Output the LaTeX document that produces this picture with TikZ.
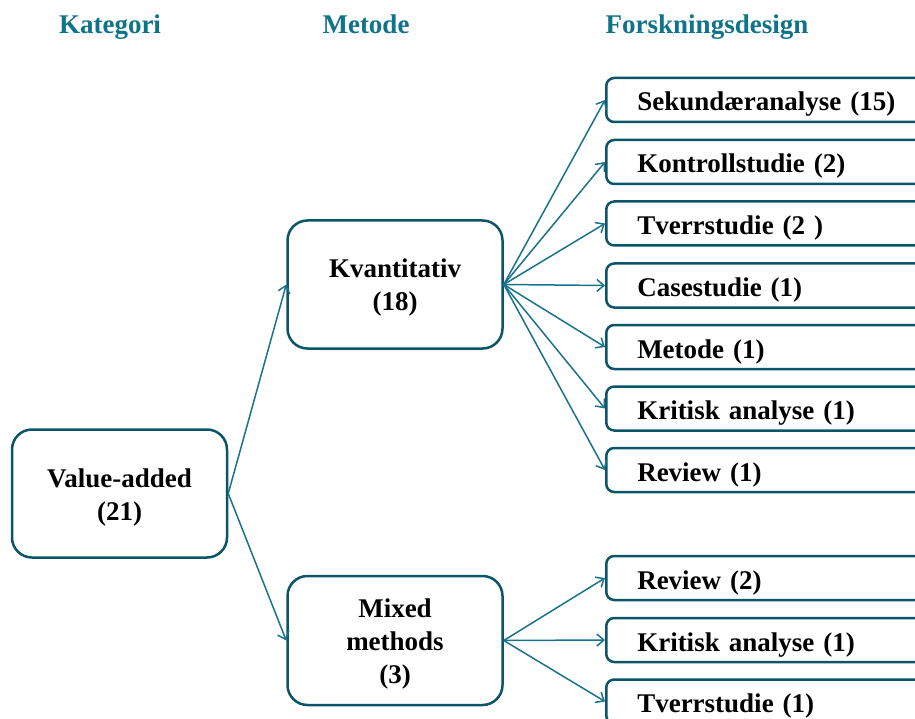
\documentclass[tikz,border=0pt]{standalone}
\usepackage{fontspec}
\setmainfont{Liberation Serif}
\usetikzlibrary{arrows.meta}
\definecolor{hdrc}{RGB}{15,115,138}
\definecolor{bdrc}{RGB}{12,85,105}
\definecolor{arrc}{RGB}{25,115,140}
\begin{document}
\begin{tikzpicture}[x=1pt,y=-1pt,
  bigbox/.style={draw=bdrc, line width=2.5pt, rounded corners=20pt, minimum width=215pt, minimum height=128pt},
  bigtext/.style={align=center, inner sep=0pt, font=\fontsize{27}{33}\selectfont\bfseries},
  rbox/.style={draw=bdrc, line width=2.5pt, rounded corners=8pt, minimum height=44pt, text width=320pt, inner xsep=31pt, inner ysep=0pt, text height=22pt, text depth=0pt, align=left, anchor=west, font=\fontsize{27}{33}\selectfont\bfseries},
  hdr/.style={text=hdrc, anchor=base, font=\fontsize{27}{32}\selectfont\bfseries},
  conn/.style={draw=arrc, line width=1.5pt, -{Straight Barb[length=7pt,width=12pt]}}]
\useasboundingbox (0,0) rectangle (915,719);
\clip (0,0) rectangle (915,719);
\fill[white] (0,0) rectangle (915,719);
% headers
\node[hdr] (h1) at (110,34) {Kategori};
\node[hdr] (h2) at (366,34) {Metode};
\node[hdr] (h3) at (707,34) {Forskningsdesign};
% main boxes
\node[bigbox] (va) at (119.5,493.5) {};
\node[bigtext] (vat) at ([yshift=-4pt]va.center) {Value-added\\(21)};
\node[bigbox] (kv) at (395,284.5) {};
\node[bigtext] (kvt) at ([yshift=-3pt]kv.center) {Kvantitativ\\(18)};
\node[bigbox, minimum height=129pt] (mm) at (395,640.5) {};
\node[bigtext] (mmt) at ([yshift=-4pt]mm.center) {Mixed\\methods\\(3)};
% right boxes
\node[rbox] (r1) at (605,100) {Sekundæranalyse (15)};
\node[rbox] (r2) at (605,162) {Kontrollstudie (2)};
\node[rbox] (r3) at (605,223.5) {Tverrstudie (2 )};
\node[rbox] (r4) at (605,285.5) {Casestudie (1)};
\node[rbox] (r5) at (605,347) {Metode (1)};
\node[rbox] (r6) at (605,408.5) {Kritisk analyse (1)};
\node[rbox] (r7) at (605,470) {Review (1)};
\node[rbox] (m1) at (605,578) {Review (2)};
\node[rbox] (m2) at (605,640) {Kritisk analyse (1)};
\node[rbox] (m3) at (605,701.5) {Tverrstudie (1)};
% connectors
\draw[conn] (va.east) -- (kv.west);
\draw[conn] (va.east) -- (mm.west);
\foreach \t in {r1,r2,r3,r4,r5,r6,r7} \draw[conn] (kv.east) -- (\t.west);
\foreach \t in {m1,m2,m3} \draw[conn] (mm.east) -- (\t.west);
\end{tikzpicture}
\end{document}
